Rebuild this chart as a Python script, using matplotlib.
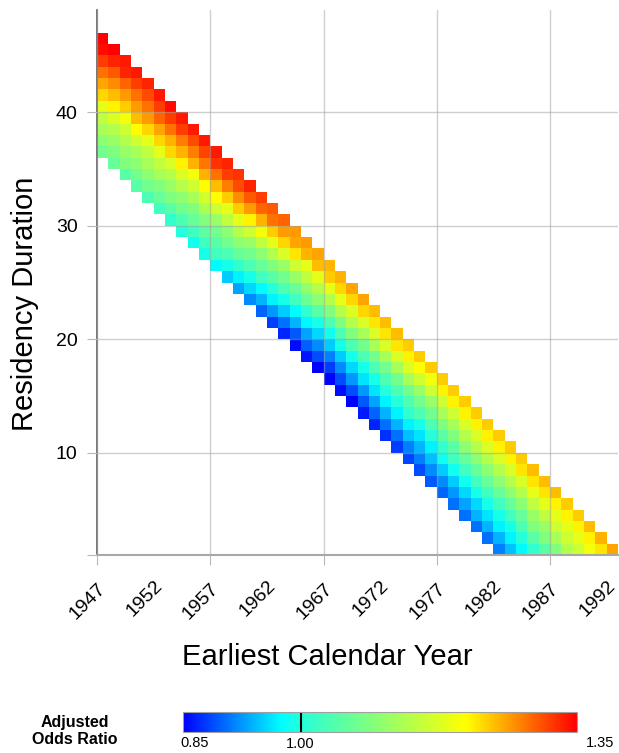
import numpy as np
import matplotlib
matplotlib.use("Agg")
import matplotlib.pyplot as plt
from matplotlib.colors import LinearSegmentedColormap

plt.rcParams['font.family'] = ['Liberation Sans', 'DejaVu Sans']

# ---- data ----
years = list(range(1947, 1993))
last_end_year = 1993  # top duration of each column = last_end_year - year
# adjusted odds ratios per earliest calendar year, listed from lowest to highest duration
or_1947 = [1.074, 1.099, 1.124, 1.148, 1.185, 1.231, 1.259, 1.287, 1.315, 1.343, 1.350]
or_1948 = [1.062, 1.087, 1.111, 1.136, 1.173, 1.217, 1.245, 1.273, 1.300, 1.330, 1.350]
or_1949 = [1.049, 1.087, 1.111, 1.136, 1.161, 1.198, 1.238, 1.266, 1.294, 1.330, 1.336]
or_1950 = [1.049, 1.074, 1.099, 1.124, 1.161, 1.210, 1.245, 1.266, 1.287, 1.315, 1.336]
or_1951 = [1.037, 1.074, 1.099, 1.124, 1.148, 1.185, 1.231, 1.266, 1.287, 1.308, 1.330]
or_1952 = [1.025, 1.062, 1.087, 1.124, 1.148, 1.185, 1.231, 1.259, 1.294, 1.315, 1.336]
or_1953 = [1.012, 1.049, 1.087, 1.111, 1.136, 1.173, 1.231, 1.252, 1.287, 1.315, 1.343]
or_1954 = [1.000, 1.037, 1.074, 1.099, 1.136, 1.173, 1.217, 1.252, 1.280, 1.315, 1.336]
or_1955 = [0.985, 1.025, 1.062, 1.087, 1.124, 1.161, 1.198, 1.252, 1.280, 1.308, 1.336]
or_1956 = [0.990, 1.025, 1.055, 1.090, 1.130, 1.167, 1.211, 1.252, 1.284, 1.312, 1.336]
or_1957 = [0.975, 1.025, 1.049, 1.074, 1.111, 1.161, 1.210, 1.245, 1.287, 1.322, 1.336]
or_1958 = [0.950, 0.990, 1.037, 1.074, 1.099, 1.148, 1.185, 1.238, 1.280, 1.315, 1.330]
or_1959 = [0.931, 0.970, 1.012, 1.062, 1.099, 1.136, 1.185, 1.238, 1.273, 1.308, 1.322]
or_1960 = [0.919, 0.956, 0.990, 1.037, 1.074, 1.111, 1.161, 1.217, 1.266, 1.300, 1.330]
or_1961 = [0.900, 0.938, 0.975, 1.025, 1.062, 1.099, 1.148, 1.198, 1.252, 1.294, 1.315]
or_1962 = [0.881, 0.925, 0.970, 1.000, 1.049, 1.087, 1.136, 1.185, 1.238, 1.287, 1.300]
or_1963 = [0.869, 0.906, 0.950, 0.990, 1.037, 1.074, 1.111, 1.173, 1.231, 1.266, 1.294]
or_1964 = [0.856, 0.894, 0.938, 0.975, 1.025, 1.062, 1.111, 1.161, 1.224, 1.259, 1.266]
or_1965 = [0.860, 0.897, 0.931, 0.972, 1.012, 1.068, 1.105, 1.148, 1.185, 1.252, 1.266]
or_1966 = [0.850, 0.888, 0.919, 0.956, 0.990, 1.049, 1.099, 1.136, 1.185, 1.245, 1.260]
or_1967 = [0.850, 0.881, 0.913, 0.950, 0.985, 1.037, 1.087, 1.136, 1.185, 1.238, 1.250]
or_1968 = [0.856, 0.888, 0.919, 0.950, 0.990, 1.037, 1.087, 1.136, 1.185, 1.231, 1.252]
or_1969 = [0.850, 0.888, 0.925, 0.956, 0.990, 1.037, 1.087, 1.136, 1.173, 1.231, 1.259]
or_1970 = [0.863, 0.894, 0.925, 0.963, 0.990, 1.037, 1.074, 1.124, 1.173, 1.231, 1.259]
or_1971 = [0.869, 0.900, 0.931, 0.963, 0.990, 1.037, 1.074, 1.124, 1.173, 1.224, 1.245]
or_1972 = [0.875, 0.906, 0.938, 0.970, 1.000, 1.037, 1.074, 1.124, 1.173, 1.224, 1.245]
or_1973 = [0.881, 0.906, 0.938, 0.970, 1.000, 1.037, 1.074, 1.124, 1.173, 1.224, 1.245]
or_1974 = [0.885, 0.913, 0.944, 0.970, 1.012, 1.037, 1.074, 1.124, 1.173, 1.217, 1.238]
or_1975 = [0.888, 0.913, 0.938, 0.963, 0.990, 1.037, 1.074, 1.111, 1.161, 1.210, 1.238]
or_1976 = [0.894, 0.919, 0.944, 0.970, 1.000, 1.037, 1.074, 1.111, 1.161, 1.198, 1.238]
or_1977 = [0.900, 0.919, 0.950, 0.985, 1.012, 1.049, 1.087, 1.124, 1.161, 1.217, 1.238]
or_1978 = [0.906, 0.925, 0.950, 0.985, 1.025, 1.049, 1.087, 1.124, 1.161, 1.217, 1.238]
or_1979 = [0.906, 0.931, 0.956, 0.985, 1.025, 1.062, 1.099, 1.136, 1.173, 1.217, 1.238]
or_1980 = [0.906, 0.938, 0.956, 0.990, 1.025, 1.062, 1.099, 1.136, 1.173, 1.217, 1.238]
or_1981 = [0.906, 0.938, 0.963, 0.990, 1.025, 1.062, 1.099, 1.136, 1.173, 1.217, 1.238]
or_1982 = [0.913, 0.938, 0.970, 0.990, 1.025, 1.062, 1.099, 1.136, 1.173, 1.217, 1.238]
or_1983 = [0.944, 0.970, 0.990, 1.025, 1.062, 1.099, 1.136, 1.173, 1.217, 1.238]
or_1984 = [0.975, 1.000, 1.037, 1.062, 1.099, 1.136, 1.173, 1.224, 1.238]
or_1985 = [1.012, 1.049, 1.087, 1.111, 1.148, 1.185, 1.224, 1.245]
or_1986 = [1.049, 1.087, 1.111, 1.148, 1.185, 1.224, 1.245]
or_1987 = [1.087, 1.124, 1.161, 1.185, 1.217, 1.245]
or_1988 = [1.136, 1.161, 1.185, 1.217, 1.238]
or_1989 = [1.161, 1.185, 1.217, 1.238]
or_1990 = [1.198, 1.217, 1.245]
or_1991 = [1.224, 1.252]
or_1992 = [1.259]

odds_columns = [or_1947, or_1948, or_1949, or_1950, or_1951, or_1952, or_1953, or_1954,
                or_1955, or_1956, or_1957, or_1958, or_1959, or_1960, or_1961, or_1962,
                or_1963, or_1964, or_1965, or_1966, or_1967, or_1968, or_1969, or_1970,
                or_1971, or_1972, or_1973, or_1974, or_1975, or_1976, or_1977, or_1978,
                or_1979, or_1980, or_1981, or_1982, or_1983, or_1984, or_1985, or_1986,
                or_1987, or_1988, or_1989, or_1990, or_1991, or_1992]

durations = list(range(1, 47))
y_ticks = [10, 20, 30, 40]
cbar_min, cbar_ref, cbar_max = 0.85, 1.00, 1.35

# ---- build grid ----
Z = np.full((len(durations), len(years)), np.nan)
for ci, (yr, col) in enumerate(zip(years, odds_columns)):
    top = last_end_year - yr
    for i, v in enumerate(col):
        d = top - (len(col) - 1) + i
        Z[durations.index(d), ci] = v
Zm = np.ma.masked_invalid(Z)

x_edges = np.arange(years[0], years[-1] + 2)
y_edges = np.arange(durations[0], durations[-1] + 2)

cmap = LinearSegmentedColormap.from_list(
    "or_map",
    [(0.0, (0, 0, 1)), (0.25, (0, 1, 1)), (0.30, (0.15, 1, 0.85)),
     (0.72, (1, 1, 0)), (1.0, (1, 0, 0))])

W, H = 619, 753
fig = plt.figure(figsize=(W / 100, H / 100), dpi=100)
ax = fig.add_axes([97 / W, 1 - 555 / H, (618 - 97) / W, (555 - 10) / H])

mesh = ax.pcolormesh(x_edges, y_edges, Zm, cmap=cmap, vmin=cbar_min, vmax=cbar_max,
                     edgecolors='none')

ax.set_xlim(1947, 1993)
ax.set_ylim(1, 49)

major_x = list(range(1947, 1993, 10))
minor_x = list(range(1952, 1993, 10))
ax.set_xticks(major_x)
ax.set_xticks(minor_x, minor=True)
ax.set_xticklabels([str(v) for v in major_x])
ax.set_xticklabels([str(v) for v in minor_x], minor=True)
for lab in ax.get_xticklabels(minor=False) + ax.get_xticklabels(minor=True):
    lab.set_rotation(45)
    lab.set_ha('right')
    lab.set_va('top')
    lab.set_rotation_mode('anchor')
    lab.set_fontsize(14)

ax.set_yticks([1] + y_ticks)
ax.set_yticklabels([''] + [str(v) for v in y_ticks], fontsize=14)

ax.tick_params(axis='x', which='major', length=7, color='#b8b8b8', pad=11)
ax.tick_params(axis='x', which='minor', length=0, pad=16)
ax.tick_params(axis='y', which='major', length=7, color='#b8b8b8', pad=7)
ax.xaxis.get_major_ticks()[0].tick1line.set_color('#606060')

ax.grid(True, which='major', color='#a0a0a0', alpha=0.5, linewidth=1)
ax.set_axisbelow(False)

for s in ['top', 'right']:
    ax.spines[s].set_visible(False)
ax.spines['left'].set_color('#606060')
ax.spines['left'].set_linewidth(1.2)
ax.spines['bottom'].set_color('#a8a8a8')
ax.spines['bottom'].set_linewidth(1.5)

fig.text(327 / W, 1 - 657 / H, 'Earliest Calendar Year', fontsize=21,
         ha='center', va='center')
fig.text(25 / W, 1 - 304 / H, 'Residency Duration', fontsize=21,
         ha='center', va='center', rotation=90)

# ---- colorbar ----
cax = fig.add_axes([183 / W, 1 - 732 / H, (577 - 183) / W, 20 / H])
cb = fig.colorbar(mesh, cax=cax, orientation='horizontal')
cb.set_ticks([])
cb.outline.set_edgecolor('#a0a0a0')
cb.outline.set_linewidth(0.8)
cax.axvline(cbar_ref, color='black', linewidth=1.5)

fig.text(195 / W, 1 - 743 / H, f'{cbar_min:.2f}', fontsize=10.5, ha='center', va='center')
fig.text(300 / W, 1 - 744 / H, f'{cbar_ref:.2f}', fontsize=10.5, ha='center', va='center')
fig.text(600 / W, 1 - 743 / H, f'{cbar_max:.2f}', fontsize=10.5, ha='center', va='center')
fig.text(75 / W, 1 - 731 / H, 'Adjusted\nOdds Ratio', fontsize=11.5, fontweight='bold',
         ha='center', va='center', linespacing=1.25)

fig.savefig('out.png', dpi=100)
